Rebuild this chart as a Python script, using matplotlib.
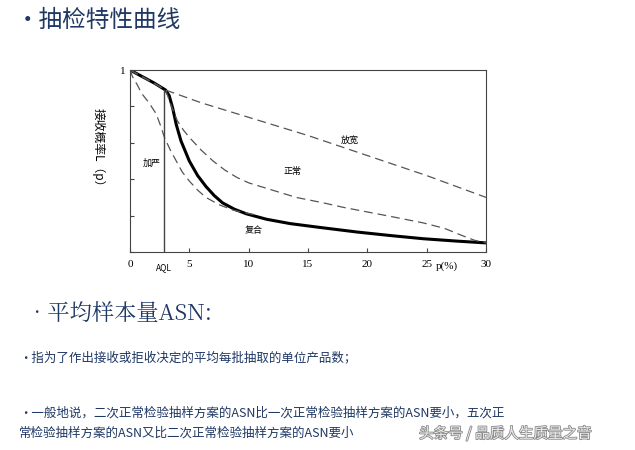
import matplotlib.pyplot as plt
import matplotlib.patheffects as pe

plt.rcParams['font.family'] = ['Noto Sans CJK SC', 'DejaVu Sans']

# curves: p (%) -> L(p)
comp_x = [0, 1, 2, 3, 3.3, 3.6, 3.9, 4.3, 5, 5.7, 6.4, 7.1, 7.8, 8.8, 9.8, 11.5, 13.5, 16, 19.1, 22, 24.7, 27.5, 30]
comp_y = [1, 0.965, 0.93, 0.89, 0.86, 0.79, 0.70, 0.61, 0.50, 0.42, 0.36, 0.31, 0.27, 0.235, 0.21, 0.18, 0.156, 0.135, 0.11, 0.09, 0.073, 0.06, 0.05]
loose_x = [0, 1, 2, 3, 6, 10, 15, 20, 25, 30]
loose_y = [1, 0.965, 0.93, 0.89, 0.82, 0.74, 0.64, 0.53, 0.42, 0.30]
normal_x = [0, 3, 3.5, 4, 4.5, 5, 6, 7, 8, 9, 10, 12, 14, 16.3, 18, 20, 22, 24.7, 26.5, 28, 29, 30]
normal_y = [1, 0.89, 0.80, 0.72, 0.67, 0.63, 0.56, 0.50, 0.45, 0.41, 0.38, 0.34, 0.30, 0.27, 0.245, 0.22, 0.195, 0.16, 0.13, 0.09, 0.065, 0.05]
tight_x = [0, 0.2, 0.6, 1, 1.6, 2.2, 2.6, 2.9, 3.4, 3.9, 4.4, 5, 5.7, 6.4, 7.5, 8.7, 9.7, 10.5]
tight_y = [1, 0.965, 0.92, 0.87, 0.82, 0.76, 0.69, 0.63, 0.56, 0.50, 0.44, 0.39, 0.34, 0.30, 0.26, 0.23, 0.215, 0.205]
aql = 2.9
labels = ['放宽', '正常', '加严', '复合']
label_pos = [(18.5, 0.61), (13.7, 0.44), (1.8, 0.49), (10.4, 0.12)]

navy = '#1f3864'
fig = plt.figure(figsize=(6.35, 4.5), dpi=100)
fig.patch.set_facecolor('white')

fig.text(0.025, 0.955, '•抽检特性曲线', fontsize=17, color=navy, va='center')
fig.text(0.04, 0.30, '•平均样本量ASN:', fontsize=16, color=navy, va='center',
         family=['Noto Serif CJK SC', 'Noto Sans CJK SC', 'DejaVu Serif'])
fig.text(0.03, 0.205, '•指为了作出接收或拒收决定的平均每批抽取的单位产品数；', fontsize=9, color=navy, va='center')
fig.text(0.03, 0.082, '•一般地说，二次正常检验抽样方案的ASN比一次正常检验抽样方案的ASN要小，五次正',
         fontsize=9, color=navy, va='center')
fig.text(0.03, 0.037, '常检验抽样方案的ASN又比二次正常检验抽样方案的ASN要小', fontsize=9, color=navy, va='center')
fig.text(0.66, 0.037, '头条号 / 品质人生质量之音', fontsize=10.5, color='#ececec', va='center',
         path_effects=[pe.withStroke(linewidth=1.2, foreground='#8a8a8a')])

ax = fig.add_axes([0.2047, 0.44, 0.5607, 0.4044])
ax.plot(comp_x, comp_y, color='black', lw=2.2)
dash = dict(color='#555555', lw=0.9, dashes=(7, 4))
ax.plot(loose_x, loose_y, **dash)
ax.plot(normal_x, normal_y, **dash)
ax.plot(tight_x, tight_y, **dash)
ax.plot([aql, aql], [0, 0.89], color='#444444', lw=1)
for t, (x, y) in zip(labels, label_pos):
    ax.text(x, y, t, fontsize=6.5, ha='center', va='center')

ax.set_xlim(0, 30)
ax.set_ylim(0, 1)
ax.set_xticks([0, 5, 10, 15, 20, 25, 30])
ax.set_yticks([0, 0.2, 0.4, 0.6, 0.8, 1])
ax.set_yticklabels(['', '', '', '', '', '1'])
ax.tick_params(direction='in', labelsize=8, length=3, color='#444444')
ax.tick_params(axis='x', pad=6)
for lab in ax.get_xticklabels() + ax.get_yticklabels():
    lab.set_family(['Liberation Serif'])
for s in ax.spines.values():
    s.set_color('#444444')
    s.set_linewidth(0.8)
ax.text(aql, -0.085, 'AQL', fontsize=6, ha='center', va='center')
ax.text(26.7, -0.08, 'p(%)', fontsize=8, ha='center', va='center', family=['Liberation Serif'])
ax.text(-0.09, 0.56, '接收概率L（p）', transform=ax.transAxes, rotation=270,
        fontsize=8.5, ha='center', va='center')

fig.savefig('out.png', dpi=100)
